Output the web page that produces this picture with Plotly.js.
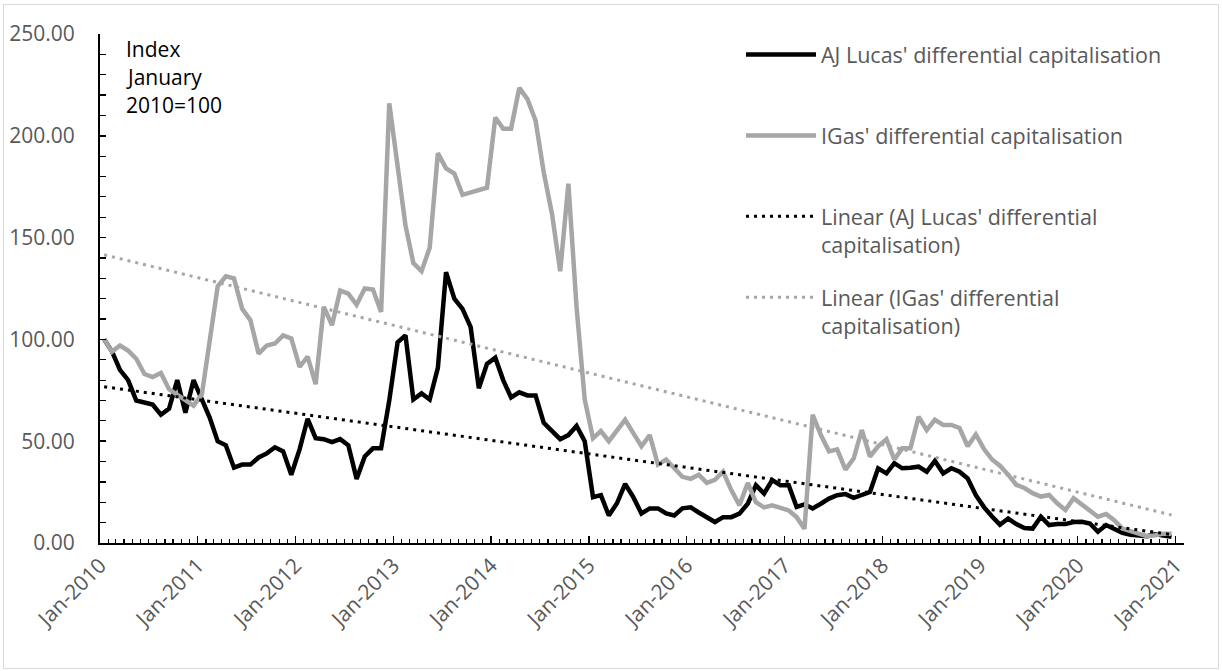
<!DOCTYPE html>
<html><head><meta charset="utf-8">
<script src="https://cdn.plot.ly/plotly-3.0.1.min.js"></script>
<style>html,body{margin:0;padding:0;background:#fff;}#chart{width:1222px;height:671px;}</style>
</head><body><div id="chart"></div>
<script>
// Monthly index, January 2010 = 100 (Jan 2010 .. Dec 2020)
const years = [2010,2011,2012,2013,2014,2015,2016,2017,2018,2019,2020];
const monthNums = ['01','02','03','04','05','06','07','08','09','10','11','12'];

const ajLucas = [
  100, 94, 85, 80, 70, 69, 68, 63, 66, 80, 64, 80,
  70, 61.5, 50, 48, 37, 38.5, 38.5, 42, 44, 47, 45, 33.5,
  46, 61, 51.5, 51, 49.5, 51, 48, 31.5, 42.5, 46.5, 46.5, 70,
  98.5, 102, 70.5, 73.5, 70.5, 86, 133, 120, 115, 106, 76, 88,
  91, 80, 71.5, 74, 72.5, 72.5, 59, 55, 51, 53, 57.5, 50,
  22.5, 23.5, 13.5, 19.5, 29, 22.5, 14.5, 17, 17, 14.5, 13.5, 17,
  17.5, 15, 12.5, 10.3, 12.7, 12.7, 14.4, 19.3, 28.4, 24.3, 30.9, 28.4,
  28.4, 17.7, 19, 17, 19.3, 21.8, 23.5, 24, 22.2, 23.8, 25, 36.7,
  34.2, 39.2, 36.7, 37, 37.5, 35, 40.3, 34.2, 36.7, 35, 31.7, 23.5,
  17.5, 13, 9, 12, 9.3, 7.4, 7.1, 12.9, 8.8, 9.3, 9.3, 10.3,
  10.4, 9.6, 5.5, 8.8, 7.1, 5, 4.1, 3.8, 3.3, 4.3, 3.6, 3
];

const iGas = [
  100, 94, 97, 94.5, 90.5, 83, 81.5, 83.5, 75.5, 73, 70.5, 67.5,
  73, 98, 126, 131, 130, 115, 109.5, 93, 97, 98, 102, 100.5,
  86.5, 91.5, 78, 116, 107, 124, 122.5, 117, 125, 124.5, 113.5, 216,
  185.5, 156, 137.5, 133.5, 145, 191.5, 184, 181.5, 171, 172, 173.5, 174.5,
  209, 203.5, 203.5, 223.5, 218, 207.5, 182, 161.5, 133.5, 176.5, 116, 70.5,
  51.5, 55, 50, 55.5, 60.5, 54, 47.5, 53, 38.5, 41, 36.5, 32.5,
  31.5, 33.5, 29.5, 31, 35, 26, 18.5, 29.5, 20, 17.5, 18.5, 17,
  16, 12.7, 7, 63, 53, 45, 46, 36, 41.5, 55.5, 42.5, 47.5,
  51, 41, 46.5, 46.5, 62, 55.5, 60.5, 58, 58, 56.5, 47.5, 53.3,
  46, 41, 38, 33.6, 28.6, 27, 24.5, 22.8, 23.6, 19.5, 16.2, 22,
  18.7, 16.2, 12.9, 14.2, 11.2, 7.1, 6, 4.6, 3.3, 3.8, 4.6, 4.6
];

const seriesNames = [
  "AJ Lucas' differential capitalisation<br>\u00a0",
  "IGas' differential capitalisation<br>\u00a0",
  "Linear (AJ Lucas' differential<br>capitalisation)",
  "Linear (IGas' differential<br>capitalisation)"
];
const yTickVals = [0, 50, 100, 150, 200, 250];
const yTickText = ['0.00', '50.00', '100.00', '150.00', '200.00', '250.00'];
const noteLines = ['Index', 'January', '2010=100'];

const months = [];
years.forEach(y => monthNums.forEach(m => months.push(y + '-' + m)));

function linearFit(vals) {
  const n = vals.length;
  let sx = 0, sy = 0, sxx = 0, sxy = 0;
  for (let i = 0; i < n; i++) { sx += i; sy += vals[i]; sxx += i * i; sxy += i * vals[i]; }
  const b = (n * sxy - sx * sy) / (n * sxx - sx * sx);
  const a = (sy - b * sx) / n;
  return [a, a + b * (n - 1)];
}

const trendX = [months[0], months[months.length - 1]];
const BLACK = '#000000', GREY = '#a6a6a6';

const traces = [
  {x: months, y: ajLucas, name: seriesNames[0], type: 'scatter', mode: 'lines',
   xperiod: 'M1', xperiodalignment: 'middle', legendgroup: 'a',
   line: {color: BLACK, width: 4.5}},
  {x: months, y: iGas, name: seriesNames[1], type: 'scatter', mode: 'lines',
   xperiod: 'M1', xperiodalignment: 'middle', legendgroup: 'b',
   line: {color: GREY, width: 4.5}},
  {x: trendX, y: linearFit(ajLucas), name: seriesNames[2], type: 'scatter', mode: 'lines',
   xperiod: 'M1', xperiodalignment: 'middle', legendgroup: 'c',
   line: {color: BLACK, width: 3, dash: '3px,5px'}},
  {x: trendX, y: linearFit(iGas), name: seriesNames[3], type: 'scatter', mode: 'lines',
   xperiod: 'M1', xperiodalignment: 'middle', legendgroup: 'd',
   line: {color: GREY, width: 3, dash: '3px,5px'}}
];

const L = 100, R = 1184, T = 34, B = 543;
const pw = R - L, ph = B - T;
const px = v => (v - L) / pw;
const py = v => (B - v) / ph;
const FONT = '"Open Sans", Lato, sans-serif';

const layout = {
  width: 1222, height: 671,
  margin: {l: L, r: 1222 - R, t: T, b: 671 - B, pad: 0},
  paper_bgcolor: '#ffffff', plot_bgcolor: '#ffffff',
  font: {family: FONT, size: 21, color: '#595959'},
  showlegend: true,
  xaxis: {
    type: 'date', range: ['2010-01-01', '2021-02-01'],
    tickformat: '%b-%Y', dtick: 'M12', tick0: '2010-01-01', tickangle: -45,
    ticks: 'inside', ticklen: 7, tickwidth: 1.5, tickcolor: '#000',
    showline: true, linecolor: '#000', linewidth: 2, showgrid: false, zeroline: false,
    tickfont: {family: FONT, size: 21, color: '#595959'},
    minor: {ticks: 'inside', ticklen: 4, tickwidth: 1.2, tickcolor: '#000', dtick: 'M1', tick0: '2010-01-01', showgrid: false}
  },
  yaxis: {
    range: [0, 250], tickvals: yTickVals, ticktext: yTickText,
    ticks: 'inside', ticklen: 6, tickwidth: 1.5, tickcolor: '#000',
    showline: true, linecolor: '#000', linewidth: 2, showgrid: false, zeroline: false,
    tickfont: {family: FONT, size: 21, color: '#595959'}, ticklabelstandoff: 19,
    minor: {ticks: 'inside', ticklen: 6, tickwidth: 1.2, tickcolor: '#000', dtick: 10, tick0: 0, showgrid: false}
  },
  legend: {
    x: px(741), y: py(34), xanchor: 'left', yanchor: 'top',
    font: {family: FONT, size: 21.5, color: '#595959'}, itemwidth: 70, tracegroupgap: 22,
    valign: 'top', bgcolor: 'rgba(0,0,0,0)', traceorder: 'grouped'
  },
  annotations: noteLines.map((t, k) => ({
    text: t, x: px(124), y: py([49, 77, 105][k]), xref: 'paper', yref: 'paper',
    xanchor: 'left', yanchor: 'middle', showarrow: false,
    font: {family: FONT, size: 21, color: '#000'}
  })),
  shapes: [
    {type: 'rect', xref: 'paper', yref: 'paper', x0: px(3.5), x1: px(1218.5), y0: py(668.5), y1: py(4.5),
     line: {color: '#d9d9d9', width: 1}, fillcolor: 'rgba(0,0,0,0)', layer: 'below'}
  ]
};

Plotly.newPlot('chart', traces, layout, {displayModeBar: false, staticPlot: true});
</script>
</body></html>
